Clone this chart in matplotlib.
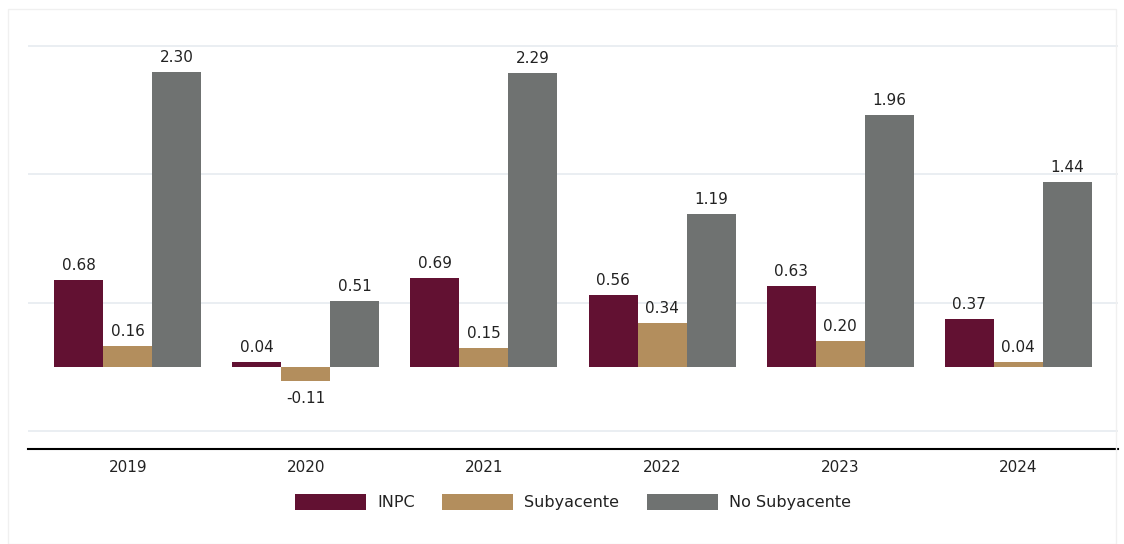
import matplotlib
matplotlib.use("Agg")
import matplotlib.pyplot as plt
import numpy as np
from matplotlib.patches import Rectangle

years = ["2019", "2020", "2021", "2022", "2023", "2024"]
inpc = [0.68, 0.04, 0.69, 0.56, 0.63, 0.37]
subyacente = [0.16, -0.11, 0.15, 0.34, 0.20, 0.04]
no_subyacente = [2.30, 0.51, 2.29, 1.19, 1.96, 1.44]
series_names = ["INPC", "Subyacente", "No Subyacente"]
colors = ["#621132", "#B38E5D", "#6F7271"]

plt.rcParams['font.family'] = ['DejaVu Sans']

fig = plt.figure(figsize=(11.24, 5.44), dpi=100)
fig.patches.append(Rectangle((8/1124, 0), 1 - 16/1124, 1 - 9/544, transform=fig.transFigure,
                             fill=False, edgecolor="#f0f0f0", linewidth=1))
ax = fig.add_axes([28/1124, 1 - 449/544, 1090/1124, 435/544])

x = np.arange(len(years))
w = 0.275
for i, (vals, name, c) in enumerate(zip([inpc, subyacente, no_subyacente], series_names, colors)):
    pos = x + (i - 1) * w
    bars = ax.bar(pos, vals, width=w, color=c, label=name, zorder=3)
    for b, v in zip(bars, vals):
        if v >= 0:
            ax.annotate(f"{v:.2f}", (b.get_x() + b.get_width()/2, v), xytext=(0, 5),
                        textcoords="offset points", ha="center", va="bottom", fontsize=11, color="#222222")
        else:
            ax.annotate(f"{v:.2f}", (b.get_x() + b.get_width()/2, v), xytext=(0, -7),
                        textcoords="offset points", ha="center", va="top", fontsize=11, color="#222222")

ax.set_xlim(-0.56, len(years) - 1 + 0.56)
ax.set_ylim(-0.64, 2.75)
ax.set_yticks([-0.5, 0.5, 1.5, 2.5])
ax.yaxis.grid(True, color="#e6ebf0", linewidth=1.2, zorder=0)
ax.tick_params(axis="y", left=False, labelleft=False)
ax.set_xticks(x)
ax.set_xticklabels(years, fontsize=11, color="#222222")
ax.tick_params(axis="x", length=0, pad=8)
for s in ["top", "right", "left"]:
    ax.spines[s].set_visible(False)
ax.spines["bottom"].set_color("black")
ax.spines["bottom"].set_linewidth(1.5)

fig.legend(loc="center", bbox_to_anchor=(573/1124, 1 - 502/544), ncol=3, frameon=False,
           fontsize=11.5, handlelength=4.45, handleheight=1.2, columnspacing=1.7, handletextpad=0.7,
           labelcolor="#222222")

fig.savefig("out.png", dpi=100)
